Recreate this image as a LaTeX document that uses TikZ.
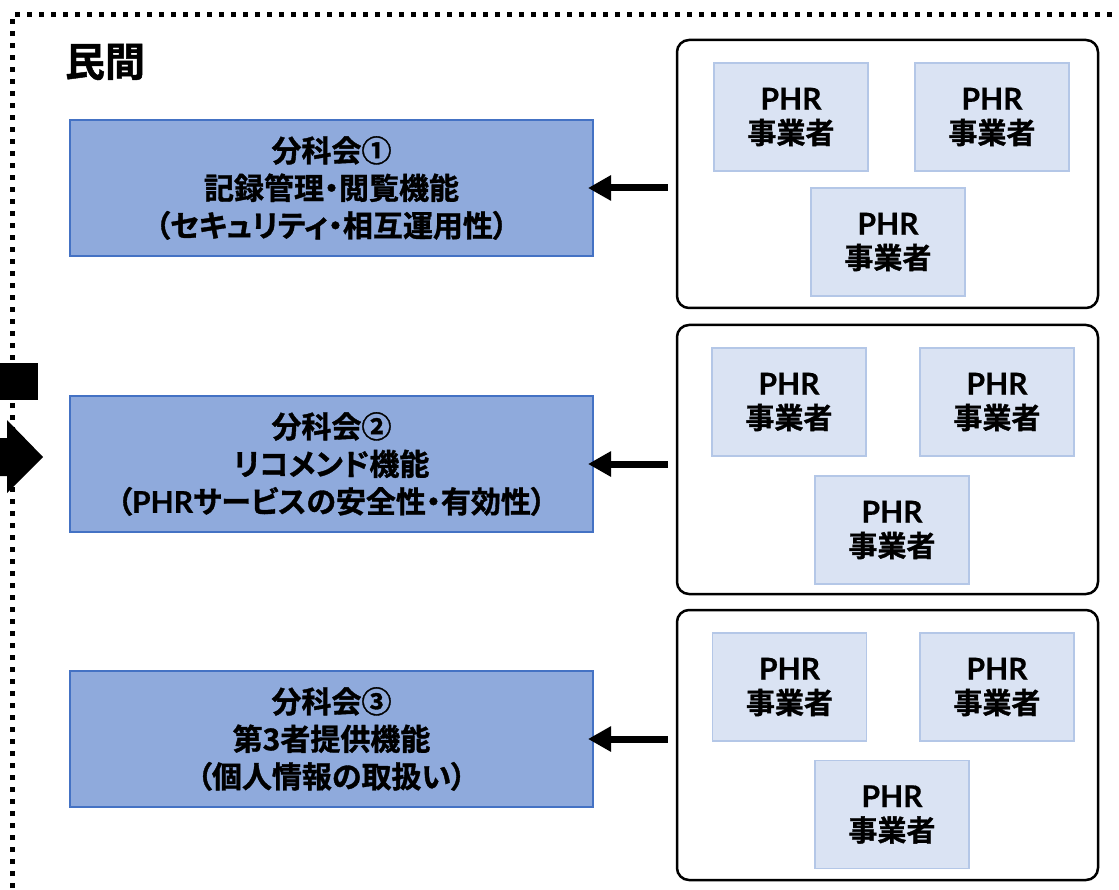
\documentclass[tikz,border=0pt]{standalone}
\usepackage{fontspec}
\setmainfont{Noto Sans CJK JP Bold}[RawFeature=+palt, FakeBold=1.2]
\newfontfamily\lat{Lato Bold}[FakeBold=0.6]
\usetikzlibrary{arrows.meta}
\definecolor{bluefill}{HTML}{8FAADC}
\definecolor{blueline}{HTML}{4472C4}
\definecolor{pfill}{HTML}{DAE3F3}
\definecolor{pline}{HTML}{B4C7E7}
\tikzset{
  x=1pt, y=-1pt,
  bunkabox/.style={draw=blueline, line width=2pt, fill=bluefill, minimum width=523pt, minimum height=136pt, inner sep=0pt, align=center, font=\fontsize{30}{37.5}\selectfont},
  groupbox/.style={draw=black, line width=2.5pt, rounded corners=12pt, minimum width=421pt, inner sep=0pt},
  phrbox/.style={draw=pline, line width=1.5pt, fill=pfill, minimum width=154pt, minimum height=108pt, inner sep=0pt, align=center, font=\fontsize{29}{34}\selectfont},
  arr/.style={line width=7pt, -{Triangle[length=23pt,width=24pt]}, shorten >=-6pt, shorten <=8pt},
  border/.style={line width=5pt, dash pattern=on 5pt off 7pt},
}
\newcommand{\phr}{{\lat\fontsize{30}{34}\selectfont PHR}\\事業者}
\begin{document}
\begin{tikzpicture}
\useasboundingbox (0,0) rectangle (1119,890);
\clip (0,0) rectangle (1119,890);
% left shapes from the neighbouring panel
\fill[black] (-10,363) rectangle (38,400);
\fill[black] (-10,438) -- (7,438) -- (7,420) -- (43,457) -- (7,493) -- (7,476) -- (-10,476) -- cycle;
% dotted border
\draw[border] (12,900) -- (12,15) -- (1140,15);
\node[font=\fontsize{40}{40}\selectfont, inner sep=0pt] (title) at (105,62) {民間};
% committee boxes
\node[bunkabox] (b1) at (331.5,188) {分科会①\\記録管理・閲覧機能\\（セキュリティ・相互運用性）};
\node[bunkabox] (b2) at (331.5,464) {分科会②\\リコメンド機能\\（{\lat PHR}サービスの安全性・有効性）};
\node[bunkabox] (b3) at (331.5,739) {分科会③\\第3者提供機能\\（個人情報の取扱い）};
% groups
\node[groupbox, minimum height=268pt] (g1) at (887.5,174) {};
\node[groupbox, minimum height=269pt] (g2) at (887.5,459.5) {};
\node[groupbox, minimum height=270pt] (g3) at (887.5,745) {};
% PHR boxes
\node[phrbox] (p11) at (791,117) {\phr};
\node[phrbox] (p12) at (992,117) {\phr};
\node[phrbox] (p13) at (888,242) {\phr};
\node[phrbox] (p21) at (789,402) {\phr};
\node[phrbox] (p22) at (997,402) {\phr};
\node[phrbox] (p23) at (892,530) {\phr};
\node[phrbox] (p31) at (789.5,687) {\phr};
\node[phrbox] (p32) at (997,687) {\phr};
\node[phrbox] (p33) at (892,814.5) {\phr};
% arrows
\draw[arr] (g1.west |- b1.east) -- (b1.east);
\draw[arr] (g2.west |- b2.east) -- (b2.east);
\draw[arr] (g3.west |- b3.east) -- (b3.east);
\end{tikzpicture}
\end{document}
